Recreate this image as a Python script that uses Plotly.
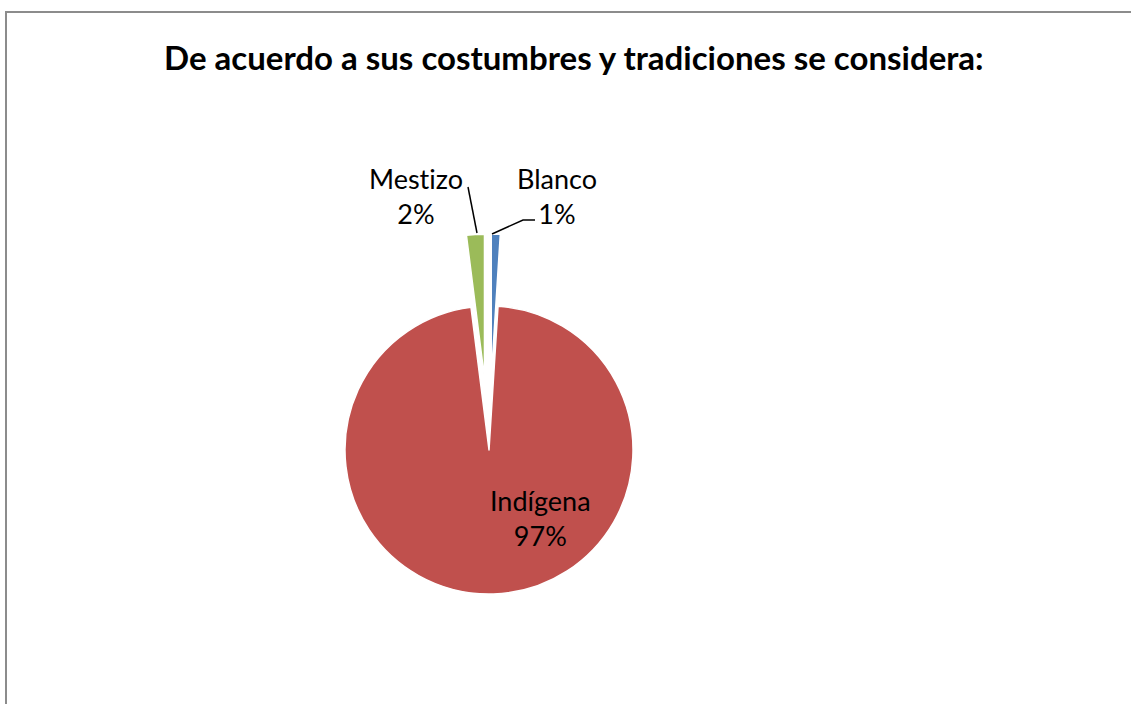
import plotly.graph_objects as go

# Survey results: self-identification by customs and traditions
categories = ["Blanco", "Indígena", "Mestizo"]
values = [1, 97, 2]
colors = ["#4F81BD", "#C0504D", "#9BBB59"]
pulls = [0.5, 0.0, 0.5]

W, H = 1131, 704
FONT = "Lato"

total = sum(values)
pct = [f"{round(100 * v / total)}%" for v in values]

fig = go.Figure(
    go.Pie(
        labels=categories,
        values=values,
        sort=False,
        direction="clockwise",
        rotation=0,
        pull=pulls,
        marker=dict(colors=colors, line=dict(color="white", width=1.5)),
        textinfo="none",
        hoverinfo="label+percent",
        domain=dict(x=[273 / W, 705 / W], y=[1 - 666 / H, 1 - 234 / H]),
        showlegend=False,
    )
)

def px(x, y):
    return x / W, 1 - y / H

annotations = []
# Title
tx, ty = px(W / 2 + 8, 57)
annotations.append(dict(
    x=tx, y=ty, xref="paper", yref="paper", showarrow=False,
    xanchor="center", yanchor="middle",
    text="<b>De acuerdo a sus costumbres y tradiciones se considera:</b>",
    font=dict(family=FONT, size=33, color="black"),
))

# Slice labels (zero-width non-joiner keeps Lato from forming the "ti" ligature)
label_pos = {"Blanco": (557, 196), "Indígena": (540, 518), "Mestizo": (416, 196)}
for cat, p in zip(categories, pct):
    lx, ly = px(*label_pos[cat])
    annotations.append(dict(
        x=lx, y=ly, xref="paper", yref="paper", showarrow=False,
        xanchor="center", yanchor="middle",
        text=f"{cat.replace('ti', 't&#8204;i')}<br>{p}", align="center",
        font=dict(family=FONT, size=27, color="black"),
    ))

shapes = [
    # leader lines
    dict(type="path", xref="paper", yref="paper",
         path="M {} {} L {} {}".format(*px(468, 187), *px(477, 233)),
         line=dict(color="black", width=1.5)),
    dict(type="path", xref="paper", yref="paper",
         path="M {} {} L {} {} L {} {}".format(*px(492, 234), *px(523, 220), *px(535, 220)),
         line=dict(color="black", width=1.5)),
    # chart frame
    dict(type="rect", xref="paper", yref="paper",
         x0=6 / W, x1=1.02, y0=-0.02, y1=1 - 12 / H,
         line=dict(color="#8C8C8C", width=2)),
]

fig.update_layout(
    width=W, height=H,
    margin=dict(l=0, r=0, t=0, b=0),
    paper_bgcolor="white", plot_bgcolor="white",
    annotations=annotations,
    shapes=shapes,
)

fig.write_html("out.html")
